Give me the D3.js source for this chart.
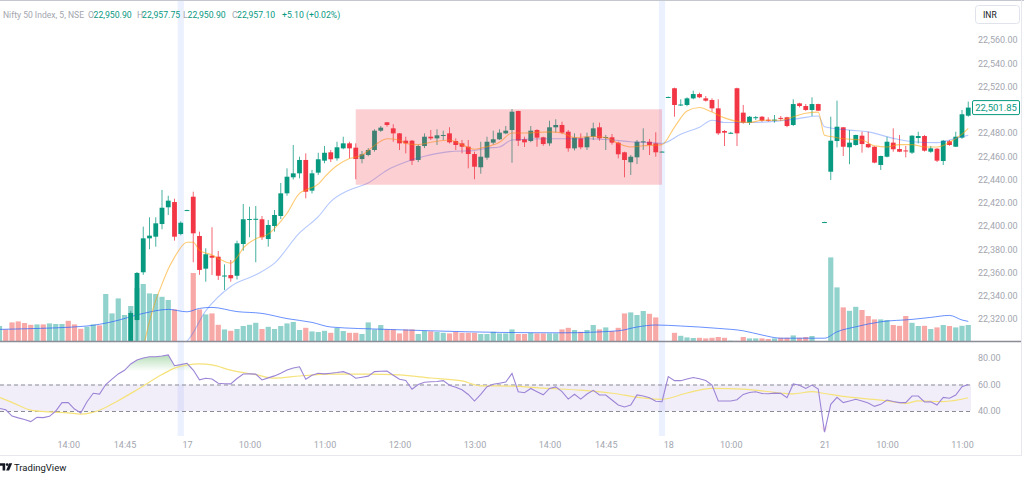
<!DOCTYPE html>
<html><head><meta charset="utf-8">
<script src="https://cdn.jsdelivr.net/npm/d3@7"></script>
<style>html,body{margin:0;padding:0;background:#fff;overflow:hidden}svg{display:block;font-family:Roboto,"Liberation Sans",sans-serif}</style>
</head><body><svg id="c" width="1024" height="477"></svg>
<script>
// ---------- DATA ----------
const firstBar = -1; // index of first bar (partly off the left edge)
// [open, high, low, close] per 5-minute bar
const candles = [
[22266,22274,22262,22270],
[22268,22272,22258,22261],[22261,22264,22248,22252],[22252,22256,22238,22242],[22242,22247,22233,22236],[22236,22240,22228,22231],
[22231,22241,22229,22238],[22238,22240,22229,22232],[22232,22242,22230,22239],[22239,22248,22236,22245],[22245,22255,22242,22252],
[22252,22254,22238,22241],[22241,22244,22232,22235],[22235,22238,22228,22232],[22232,22240,22230,22238],[22238,22246,22235,22243],
[22243,22245,22236,22239],[22239,22262,22238,22258],[22258,22268,22252,22264],[22264,22284,22262,22280],[22280,22291,22274,22287],
[22287,22327,22284,22325.2],[22319.1,22360.4,22301,22359.6],[22360.2,22399.4,22358,22389.4],[22389.4,22407.5,22380,22391.7],[22390.8,22407.5,22382.2,22402.3],
[22401.7,22431,22397.2,22415.7],[22416.1,22426,22409.5,22421.8],[22420.6,22423.5,22387.4,22390.8],[22393.1,22404,22392,22402.8],[22413.3,22414,22413,22413.7],
[22425.2,22429.5,22368.8,22393.7],[22391.4,22395.1,22358,22362.2],[22363.3,22380.8,22352.1,22375.7],[22374.5,22398.9,22357.8,22372.7],[22373.6,22378.5,22353.5,22357.2],
[22356.8,22367,22345,22357.4],[22357.8,22370.7,22352.1,22355],[22357.2,22387.4,22354,22385.1],[22384.5,22418.9,22378.7,22405.8],[22405.5,22416.6,22390.3,22406],
[22405.5,22417.2,22368.8,22406.2],[22405.8,22408.6,22388,22390.3],[22388.8,22405.2,22382.2,22400.9],[22400,22413.8,22395.1,22409.5],[22408.6,22437,22406,22428.1],
[22428.1,22449.6,22426,22442.4],[22441.9,22469.7,22440,22445.3],[22445.3,22459.6,22441,22456.8],[22456.8,22462.5,22423.8,22429.5],[22430.4,22448.2,22428,22445.3],
[22445.9,22463,22444,22457.4],[22456.2,22468.8,22454,22463],[22463.4,22465.4,22455,22457.4],[22458.2,22472.5,22456.2,22467.7],[22466.8,22476.8,22466,22471.1],
[22471.1,22472.5,22458.2,22466.8],[22467.4,22471.1,22440.2,22457.6],[22457.6,22464.5,22453.9,22461.7],[22461.1,22467,22460,22465.4],[22465.4,22483.2,22464,22482],
[22482,22486,22481,22484.6],[22489.2,22489.5,22485.4,22486.9],[22484,22487.5,22472.5,22479.7],[22479.7,22480,22465.4,22471.1],[22473.4,22476.8,22462.5,22471.1],
[22473.4,22474,22452.5,22456.2],[22456.8,22470,22455,22468.8],[22468.8,22479.7,22467,22476.8],[22476.8,22482.6,22474,22475.4],[22475.4,22483.2,22469.7,22478],
[22477.9,22482,22474,22478.3],[22479.7,22484.9,22471,22472],[22473.1,22475.4,22465.4,22469.7],[22471.1,22474,22462.5,22468.2],[22468.2,22474,22449.6,22461.9],
[22461.9,22463.9,22440.2,22451],[22450.5,22472.5,22445,22459.6],[22458.8,22476.8,22457,22472.5],[22471.7,22482,22470,22474.6],[22474.6,22483.2,22474,22480.3],
[22479.7,22486,22479,22482],[22482.6,22500.6,22454.4,22498.3],[22498.9,22499.2,22468.8,22473.4],[22474.6,22476.8,22468,22472],[22473.1,22486,22472,22482],
[22482.6,22483.2,22468.2,22476],[22476.3,22476.8,22469,22470.5],[22471.1,22490.6,22469,22484.9],[22484.9,22491.8,22480.3,22486.9],[22486.9,22489.7,22479,22480.3],
[22481.1,22482.6,22463.9,22466.8],[22466.8,22479.7,22465,22476],[22475.4,22479.7,22466,22467.7],[22467.7,22480.3,22465.4,22476.8],[22476.8,22488.9,22474,22484],
[22484.9,22488.9,22473.4,22475.4],[22476,22478.3,22465.4,22476.5],[22476.3,22479.1,22470,22471.7],[22471.7,22472.5,22458.2,22461.7],[22463.4,22463.9,22441.9,22456.8],
[22454.8,22461.1,22443.9,22459.6],[22459.1,22474,22453.3,22472.5],[22472.5,22484,22465.4,22472.8],[22472.5,22474.8,22461.1,22469.7],[22471.1,22480.6,22459.6,22463.4],
[22463.7,22464.3,22463.5,22464],[22510.8,22511.3,22510.6,22511],[22518.5,22519,22494,22504.1],[22504,22509,22503.2,22504.5],[22504.1,22510.7,22503,22509.8],
[22509.8,22516.4,22509,22513.5],[22513.5,22514.7,22510,22510.7],[22509.8,22511.8,22507,22507.8],[22508.4,22509.8,22498.3,22501.2],[22501.2,22509,22478.3,22479.7],
[22481.7,22482.6,22468.8,22480.3],[22479.8,22481,22479.5,22480.2],[22518.5,22519,22468.8,22479.7],[22497.5,22504.1,22488,22488.9],[22488.9,22494.6,22486.9,22494],
[22493.2,22494.6,22491.2,22493.6],[22494,22494.6,22489.7,22490.6],[22491.4,22493.5,22489.7,22491.1],[22491,22495.5,22488.9,22491.5],[22493,22494.6,22490.6,22492.5],
[22493.5,22494,22485,22486],[22486.9,22509,22486,22504.9],[22505.5,22506,22502,22503.2],[22503.2,22504.9,22499,22499.8],[22499.8,22510.7,22494.6,22504.9],
[22504.9,22505.2,22499,22499.2],[22403,22403.6,22402.8,22403.4],[22446.7,22494,22439.6,22473.4],[22473.1,22507.8,22467.7,22485.4],[22484.9,22485.2,22460.2,22468.2],
[22467.7,22482.6,22453.1,22471.7],[22469.7,22478.5,22469,22478.3],[22477.7,22481.1,22463.1,22470.5],[22470.5,22481.1,22467,22467.7],[22468.2,22468.5,22454,22454.5],
[22452.5,22460.5,22448.2,22460.2],[22459.6,22476.8,22459,22472.5],[22471.7,22484,22463.9,22466],[22466.2,22478.3,22463.5,22463.9],[22465,22468.8,22459,22464.5],
[22463.1,22478,22462,22477.7],[22475.7,22481.1,22471.1,22477.4],[22477.4,22478.3,22464,22464.8],[22463.9,22468.8,22463,22466.8],[22466.5,22467,22455,22456.2],
[22455.9,22474,22452.5,22473.4],[22472.9,22474,22469,22469.7],[22468.2,22481.1,22468,22476.8],[22476,22499.8,22475,22496.1],[22494.9,22507,22494,22501.85]
];
const volumes = [75,
58,93,98,90,81,83,83,88,85,85, 101,83,61,71,83,78,235,138,213,130,
175,265,285,238,235,221,205,158,0,0, 340,158,133,138,81,58,51,60,75,81,
91,60,71,60,75,88,95,55,66,48, 45,51,41,65,50,41,41,35,93,58,
80,58,58,38,58,58,35,51,48,45, 41,38,46,41,41,41,35,35,46,38,
38,58,35,35,41,38,38,38,38,58, 66,55,46,55,80,58,68,50,66,138,
143,130,150,136,118,0,0,41,26,18, 15,16,13,16,20,16,2,1,20,13,
13,13,10,13,16,16,28,16,20,25, 0,0,418,268,168,151,171,155,125,108,
108,105,80,76,125,91,75,76,60,68, 80,75,68,76,80];
const rsiValues = [42,
40.9,36.2,34.8,33.6,32,35.2,35,36,40,46.3, 46.3,41.5,38.5,47,53.4,52.8,60,64,68,70.7,
75.5,78.5,80,81,81,81.5,82.3,74.2,75,76, 70.9,63.5,64.7,64.2,61,60.6,60.5,64.5,67.9,68,
67.8,63.4,65,66.5,68.5,71,72.5,73.4,64,67, 68.5,68,68.5,69,69.7,68,64.7,65.5,66.3,69.7,
70,70.2,67,64,63,56.4,60,61.7,62.1,62.3, 62.9,59.4,58,56,52.5,47.5,52.5,58.3,60.2,61,
61.8,68.4,54.5,53.8,57,54.6,52.2,57,58.2,54.6, 49,52.6,49,52.8,55.6,52.1,52.1,48.3,44.6,43,
44.5,52.1,51.3,50,47.3,47,66,62.9,62.9,64.2, 65.3,64.4,63,59.6,47.5,47.5,47.5,48.5,52.5,54,
54.5,53.2,53,53.5,53.3,50,60.4,59.5,57,59.6, 56.6,24,45,50.3,46.3,47.5,48.8,47.5,46,43.5,
45,48.3,47.2,46.3,46.3,51.3,51.3,46.8,47,44.5, 50.3,49.6,52,58.3,60];
// [bar, value] readings of the smooth lines
const rsiMA = [[-1,50.3],[1,46.5],[4,40.7],[7,39.3],[10,38.6],[12,37.7],[15,40.6],[18,47.8],[21,56],[25,67.5],[27,72.4],[29,74.7],[31,75.5],[33,74.8],[36,70.8],[40,67.4],[43,64.8],[47,66.4],[52,67.8],[58,67.9],[63,67.2],[68,64.9],[73,62.7],[76,59],[81,58.8],[86,57.2],[92,55.7],[97,53.4],[102,49.8],[105,48.8],[109,53.6],[113,57.1],[118,56.5],[124,53.6],[126,52.9],[129,54.6],[131,53.2],[134,51],[140,48.2],[144,45.8],[146,47.6],[150,47.1],[154,50]];
const emaFast = [[-1,22262],[5,22245],[10,22246],[15,22243],[18,22258],[20,22275],[22,22296],[23,22318],[24,22336],[25,22350],[26,22363],[27,22373],[29,22386],[30,22386],[31,22379],[33,22375],[34,22372],[36,22368],[37,22373],[38,22381],[40,22389],[42,22393],[44,22404],[45,22411],[47,22428],[48,22431],[50,22436],[51,22442],[53,22452],[55,22458],[57,22461],[58,22465],[60,22473],[61,22475],[63,22474],[64,22471],[66,22470],[68,22472],[71,22474],[73,22470],[75,22466],[76,22467],[79,22472],[81,22480],[83,22480],[87,22481],[89,22480],[91,22476],[94,22477],[96,22476],[98,22471],[100,22468],[102,22469],[105,22470],[107,22485],[109,22499],[111,22502],[113,22498],[115,22493],[117,22490],[119,22489],[121,22491],[124,22491],[126,22494],[128,22497],[130,22498],[131,22478],[132,22477],[134,22475],[137,22474],[139,22469],[141,22468],[143,22470],[145,22470],[147,22468],[149,22468],[151,22472],[153,22479],[154,22484]];
const emaSlow = [[-1,22250],[10,22248],[16,22250],[20,22262],[24,22280],[28,22298],[29,22301],[32,22327],[36,22348],[40,22358],[43,22368],[47,22394],[50,22408],[52,22421],[55,22431],[58,22437],[61,22448],[64,22455],[67,22460],[71,22464],[75,22465],[77,22467],[79,22468],[81,22474],[87,22475],[92,22475],[97,22474],[100,22472.5],[104,22471.5],[105,22471],[108,22479],[111,22485],[113,22491],[115,22489],[119,22489],[123,22490],[127,22492.6],[130,22494.6],[131,22485.4],[135,22482.5],[138,22481],[142,22475.4],[145,22472.5],[149,22471.7],[152,22475.4],[154,22478]];
const volMA = [[-1,58],[3,61],[13,75],[17,96],[22,138],[26,158],[29,146],[31,163],[33,168],[37,147],[41,138],[45,112],[49,93],[52,70],[61,58],[68,51],[79,43],[89,41],[98,51],[101,70],[104,80],[108,75],[114,63],[118,51],[121,30],[124,14],[131,14],[133,46],[136,71],[140,96],[145,108],[148,118],[151,128],[153,105],[154,98]];
const priceTicks = [22320,22340,22360,22380,22400,22420,22440,22460,22480,22520,22540,22560];
const rsiTicks = [40,60,80];
const rsiBands = [60,40];
const timeTickBars = [10,19,29,39,51,63,75,87,96,106,116,131,141,153];
const timeTickLabels = ["14:00","14:45","17","10:00","11:00","12:00","13:00","14:00","14:45","18","10:00","21","10:00","11:00"];
const sessionBars = [28,105];
const zoneBars = [56,105];
const zonePrices = [22500.4,22435.5];
const lastPrice = 22501.85;
const headerName = "Nifty 50 Index, 5, NSE";
const headerOHLC = [["O","22,950.90"],["H","22,957.75"],["L","22,950.90"],["C","22,957.10"]];
const headerChange = "+5.10 (+0.02%)";

// ---------- DRAW ----------
const svg = d3.select("#c");
const UP="#089981", DN="#f23645", VUP="#92d2cc", VDN="#f7a9a7", AX="#a3a6af";
const bars = candles.map((c,i)=>({k:i+firstBar,o:c[0],h:c[1],l:c[2],c:c[3],v:volumes[i],r:rsiValues[i]}));

const x = d3.scaleLinear().domain([-1,154]).range([-0.5,968.25]);
const y = d3.scaleLinear().domain([22320,22560]).range([319,40]);
const yVol = d3.scaleLinear().domain([0,500]).range([341,241]);
const yR = d3.scaleLinear().domain([40,80]).range([411,358]);
const step = x(1)-x(0);

const defs = svg.append("defs");
defs.append("clipPath").attr("id","mainClip").append("rect").attr("x",0).attr("y",0).attr("width",971).attr("height",341);
defs.append("clipPath").attr("id","rsiClip").append("rect").attr("x",0).attr("y",343).attr("width",971).attr("height",94);
const gUp = defs.append("linearGradient").attr("id","obGrad").attr("gradientUnits","userSpaceOnUse")
  .attr("x1",0).attr("x2",0).attr("y1",yR(100)).attr("y2",yR(70));
gUp.append("stop").attr("offset",0).attr("stop-color","#4caf50").attr("stop-opacity",1);
gUp.append("stop").attr("offset",1).attr("stop-color","#4caf50").attr("stop-opacity",0);
const gDn = defs.append("linearGradient").attr("id","osGrad").attr("gradientUnits","userSpaceOnUse")
  .attr("x1",0).attr("x2",0).attr("y1",yR(30)).attr("y2",yR(0));
gDn.append("stop").attr("offset",0).attr("stop-color","#ff5252").attr("stop-opacity",0);
gDn.append("stop").attr("offset",1).attr("stop-color","#ff5252").attr("stop-opacity",1);

// session highlight columns
svg.append("g").selectAll("rect").data(sessionBars).join("rect")
  .attr("x",d=>x(d)-step/2).attr("width",step).attr("y",1).attr("height",435)
  .attr("fill","rgba(41,98,255,0.09)");

// ---- RSI pane ----
const rp = svg.append("g").attr("clip-path","url(#rsiClip)");
rp.append("rect").attr("x",0).attr("width",971).attr("y",yR(rsiBands[0])).attr("height",yR(rsiBands[1])-yR(rsiBands[0]))
  .attr("fill","rgba(126,87,194,0.1)");
rp.selectAll("line.band").data(rsiBands).join("line").attr("class","band")
  .attr("x1",0).attr("x2",971).attr("y1",d=>yR(d)+0.5).attr("y2",d=>yR(d)+0.5)
  .attr("stroke","#8a8d96").attr("stroke-dasharray","4,3").attr("stroke-width",1);
rp.append("path").datum(bars).attr("fill","url(#obGrad)")
  .attr("d",d3.area().x(d=>x(d.k)).y0(yR(70)).y1(d=>yR(Math.max(d.r,70))));
rp.append("path").datum(bars).attr("fill","url(#osGrad)")
  .attr("d",d3.area().x(d=>x(d.k)).y0(yR(30)).y1(d=>yR(Math.min(d.r,30))));
rp.append("path").datum(rsiMA).attr("fill","none").attr("stroke","#f5e27a").attr("stroke-width",1.2)
  .attr("d",d3.line().x(d=>x(d[0])).y(d=>yR(d[1])).curve(d3.curveMonotoneX));
rp.append("path").datum(bars).attr("fill","none").attr("stroke","#9c84d6").attr("stroke-width",1.1)
  .attr("d",d3.line().x(d=>x(d.k)).y(d=>yR(d.r)));

// ---- main pane ----
const mp = svg.append("g").attr("clip-path","url(#mainClip)");
const isUp = d=>d.c>=d.o;
mp.append("g").selectAll("rect").data(bars.filter(d=>d.v>0)).join("rect")
  .attr("x",d=>x(d.k)-2.6).attr("width",5.2).attr("y",d=>yVol(d.v)).attr("height",d=>yVol(0)-yVol(d.v))
  .attr("fill",d=>isUp(d)?VUP:VDN);
mp.append("path").datum(volMA).attr("fill","none").attr("stroke","rgba(41,98,255,0.7)").attr("stroke-width",1)
  .attr("d",d3.line().x(d=>x(d[0])).y(d=>yVol(d[1])).curve(d3.curveMonotoneX));
const cg = mp.append("g");
cg.selectAll("line").data(bars).join("line")
  .attr("x1",d=>x(d.k)).attr("x2",d=>x(d.k)).attr("y1",d=>y(d.h)).attr("y2",d=>y(d.l))
  .attr("stroke",d=>isUp(d)?UP:DN).attr("stroke-width",1).attr("opacity",0.75);
cg.selectAll("rect").data(bars).join("rect")
  .attr("x",d=>x(d.k)-2.4).attr("width",4.8)
  .attr("y",d=>y(Math.max(d.o,d.c))).attr("height",d=>Math.max(1,Math.abs(y(d.o)-y(d.c))))
  .attr("fill",d=>isUp(d)?UP:DN);
mp.append("path").datum(emaSlow).attr("fill","none").attr("stroke","rgba(41,98,255,0.35)").attr("stroke-width",1.1)
  .attr("d",d3.line().x(d=>x(d[0])).y(d=>y(d[1])).curve(d3.curveMonotoneX));
mp.append("path").datum(emaFast).attr("fill","none").attr("stroke","rgba(255,160,0,0.55)").attr("stroke-width",1.1)
  .attr("d",d3.line().x(d=>x(d[0])).y(d=>y(d[1])).curve(d3.curveMonotoneX));
mp.append("rect").attr("x",x(zoneBars[0])).attr("width",x(zoneBars[1])-x(zoneBars[0]))
  .attr("y",y(zonePrices[0])).attr("height",y(zonePrices[1])-y(zonePrices[0]))
  .attr("fill","rgba(242,54,69,0.24)");

// separators / frame
svg.append("line").attr("x1",0).attr("x2",1022).attr("y1",341.5).attr("y2",341.5).attr("stroke","#8a8d96").attr("stroke-width",1.5);
svg.append("line").attr("x1",0).attr("x2",1024).attr("y1",0.5).attr("y2",0.5).attr("stroke","#c4c7ce");
svg.append("line").attr("x1",0).attr("x2",1022).attr("y1",455.5).attr("y2",455.5).attr("stroke","#e6e8ee");
svg.append("line").attr("x1",1021.5).attr("x2",1021.5).attr("y1",0).attr("y2",456).attr("stroke","#e6e8ee");

// axes
const styleAxis = g=>{g.select(".domain").remove();g.selectAll("line").remove();
  g.selectAll("text").attr("fill",AX).attr("font-size",9).attr("font-family","Roboto, sans-serif");};
svg.append("g").attr("transform","translate(974,0)")
  .call(d3.axisRight(y).tickValues(priceTicks).tickFormat(d3.format(",.2f")).tickSize(0).tickPadding(4)).call(styleAxis);
svg.append("g").attr("transform","translate(974,0)")
  .call(d3.axisRight(yR).tickValues(rsiTicks).tickFormat(d3.format(".2f")).tickSize(0).tickPadding(4)).call(styleAxis);
svg.append("g").attr("transform","translate(0,437)")
  .call(d3.axisBottom(x).tickValues(timeTickBars).tickFormat((d,i)=>timeTickLabels[i]).tickSize(0).tickPadding(5)).call(styleAxis);

// last price label
const lp = svg.append("g").attr("transform",`translate(972.5,${y(lastPrice)})`);
lp.append("rect").attr("x",0).attr("y",-7).attr("width",47).attr("height",14).attr("rx",1.5)
  .attr("fill","#fff").attr("stroke",UP).attr("stroke-width",1);
lp.append("text").attr("x",23.5).attr("y",3.3).attr("text-anchor","middle").attr("font-size",9.5)
  .attr("fill",UP).text(d3.format(",.2f")(lastPrice));

// currency box
svg.append("rect").attr("x",975.5).attr("y",5.5).attr("width",44).attr("height",18).attr("rx",3)
  .attr("fill","#fff").attr("stroke","#e0e3eb");
svg.append("text").attr("x",983).attr("y",17.5).attr("font-size",8.5).attr("fill","#131722").text("INR");

// header (segments placed as in the reference legend)
const hx = [[88,93.5],[137,142],[183,187.5],[232,237]];
const hg = svg.append("g").attr("font-size",8.7);
hg.append("text").attr("x",3).attr("y",17.5).attr("fill",AX)
  .attr("textLength",81).attr("lengthAdjust","spacingAndGlyphs").text(headerName);
headerOHLC.forEach((p,i)=>{
  hg.append("text").attr("x",hx[i][0]).attr("y",17.5).attr("fill",AX).text(p[0]);
  hg.append("text").attr("x",hx[i][1]).attr("y",17.5).attr("fill",UP).text(p[1]);
});
hg.append("text").attr("x",282).attr("y",17.5).attr("fill",UP).text(headerChange);

// TradingView logo
const lg = svg.append("g").attr("fill","#131722");
lg.append("path").attr("d","M0,463.2h5.2v7.3h-2.6v-4.7h-2.6z");
lg.append("circle").attr("cx",7.2).attr("cy",464.6).attr("r",1.4);
lg.append("path").attr("d","M9.2,463.2h3l-3.1,7.3h-3z");
svg.append("text").attr("x",14).attr("y",470.5).attr("font-size",9.5).attr("fill","#131722").text("TradingView");
</script></body></html>
